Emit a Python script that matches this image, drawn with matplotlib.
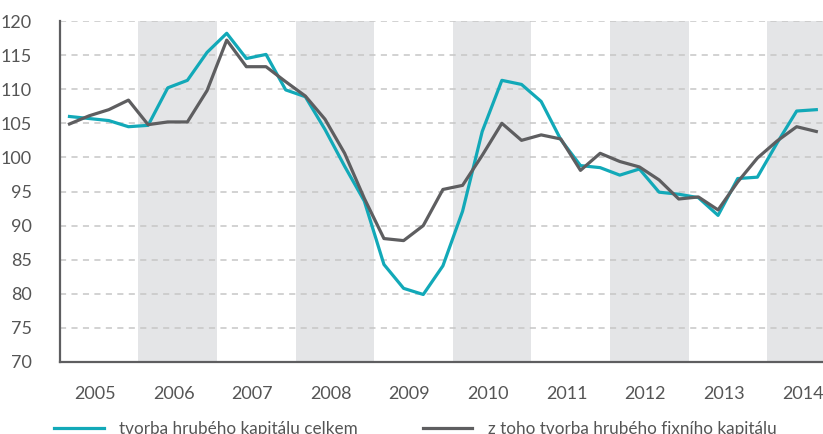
import numpy as np
import matplotlib.pyplot as plt

# roky a ctvrtletni indexy (2005 Q1 - 2014 Q3)
roky = list(range(2005, 2015))
celkem = [106.0, 105.7, 105.4, 104.5,
          104.7, 110.2, 111.3, 115.4,
          118.2, 114.5, 115.1, 109.9,
          108.9, 104.1, 98.7, 93.6,
          84.3, 80.8, 79.9, 84.1,
          92.1, 103.8, 111.3, 110.7,
          108.2, 102.6, 98.8, 98.5,
          97.4, 98.3, 94.9, 94.6,
          94.1, 91.5, 96.9, 97.1,
          102.1, 106.8, 107.0]
fixni = [104.9, 106.1, 107.0, 108.4,
         104.8, 105.2, 105.2, 109.8,
         117.2, 113.3, 113.3, 111.1,
         109.0, 105.6, 100.6, 94.0,
         88.1, 87.8, 90.0, 95.3,
         95.9, 100.3, 105.0, 102.5,
         103.3, 102.7, 98.1, 100.6,
         99.4, 98.6, 96.7, 93.9,
         94.2, 92.3, 96.4, 99.9,
         102.4, 104.5, 103.8]
y_ticks = [70, 75, 80, 85, 90, 95, 100, 105, 110, 115, 120]

teal = '#12A9B8'
grey = '#5E5E60'
txt = '#555555'

plt.rcParams['font.family'] = ['Lato', 'DejaVu Sans']

fig = plt.figure(figsize=(8.23, 4.34), dpi=100)
ax = fig.add_axes([0.0725, 0.1659, 0.9275, 0.7857])

x = np.arange(len(celkem)) / 4 + 0.125

# sede pruhy pro sude roky
for i in range(len(roky)):
    if i % 2 == 1:
        ax.axvspan(i, i + 1, color='#E4E5E7', lw=0, zorder=0)

for v in y_ticks[1:]:
    ax.axhline(v, color='#C6C6C6', lw=1.1, ls=(0, (4, 3.5)), zorder=1)

l1, = ax.plot(x, celkem, color=teal, lw=2.3, zorder=3,
              label='tvorba hrubého kapitálu celkem')
l2, = ax.plot(x, fixni, color=grey, lw=2.3, zorder=3,
              label='z toho tvorba hrubého fixního kapitálu')

ax.set_xlim(0, 9.71)
ax.set_ylim(70, 120)
ax.set_yticks(y_ticks)
ax.set_xticks(np.arange(len(roky)) + 0.45)
ax.set_xticklabels([str(r) for r in roky])
ax.tick_params(axis='both', length=0, labelsize=13, colors=txt)
ax.tick_params(axis='y', pad=20)
ax.tick_params(axis='x', pad=17)

for s in ['top', 'right']:
    ax.spines[s].set_visible(False)
for s in ['left', 'bottom']:
    ax.spines[s].set_color(grey)
    ax.spines[s].set_linewidth(1.6)
    ax.spines[s].set_zorder(4)

fig.legend(handles=[l1, l2], loc='center left', bbox_to_anchor=(0.066, 0.012),
           ncol=2, frameon=False, fontsize=12.3, labelcolor=txt,
           handlelength=2.9, handletextpad=0.9, columnspacing=3.8,
           borderpad=0, borderaxespad=0)

fig.savefig('out.png', dpi=100)
